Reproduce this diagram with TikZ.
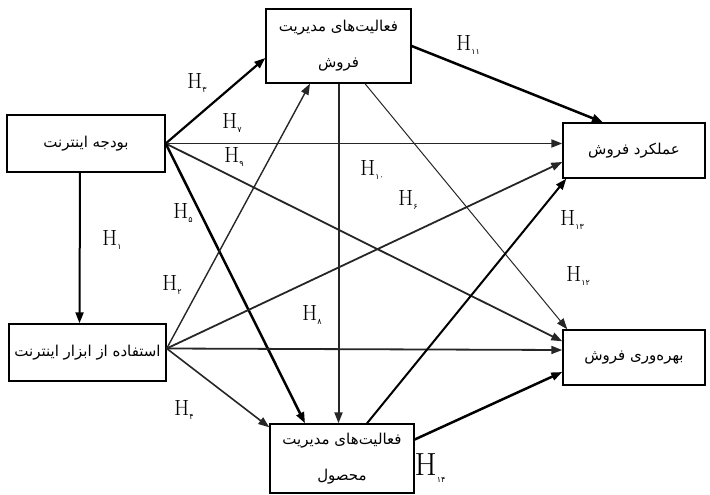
\documentclass[tikz,border=0pt]{standalone}
\usepackage{fontspec}
\usetikzlibrary{arrows.meta}
\newfontfamily\farsi[Script=Arabic]{DejaVu Sans}
\TeXXeTstate=1
\newcommand{\fa}[1]{{\farsi\beginR #1\endR}}
\newcommand{\hlab}[1]{H\raisebox{-.5ex}{\fontsize{8}{8}\selectfont\farsi #1}}

\tikzset{
  box/.style={draw,line width=1.4pt,inner sep=0pt,align=center,font=\fontsize{15}{18}\selectfont},
  link/.style={-{Triangle[length=11pt,width=8pt]},line width=1.6pt,black!85},
  hyp/.style={font=\fontsize{22}{22}\selectfont}
}

\begin{document}
\begin{tikzpicture}[x=1pt,y=-1pt]
        \useasboundingbox (0,0) rectangle (710,495);
        % boxes
        \node[box,minimum width=158pt,minimum height=57pt] (bud) at (86,143.5) {\fa{بودجه اینترنت}};
        \node[box,minimum width=157pt,minimum height=57pt] (abzar) at (87.5,352.5) {\fa{استفاده از ابزار اینترنت}};
        \node[box,minimum width=145pt,minimum height=74pt] (fmf) at (338.5,46) {\fa{فعالیت‌های مدیریت}\\[18pt]\fa{فروش}};
        \node[box,minimum width=142pt,minimum height=55pt] (amal) at (634,150.5) {\fa{عملکرد فروش}};
        \node[box,minimum width=142pt,minimum height=55pt] (bahre) at (634,357.5) {\fa{بهره‌وری فروش}};
        \node[box,minimum width=144pt,minimum height=69pt] (fmm) at (342,458.5) {\fa{فعالیت‌های مدیریت}\\[18pt]\fa{محصول}};
        \coordinate (bo) at ([yshift=4pt]abzar.east);
        % links
        \draw[link,line width=2pt,black] ([xshift=-6pt]bud.south) -- ([xshift=-8pt]abzar.north);
        \draw[link,line width=2.2pt,black] (bud.east) -- ([yshift=-12pt]fmf.west);
        \draw[link,line width=1.8pt] (bud.east) -- (bud.east -| amal.west);
        \draw[link,line width=1.8pt] (bud.east) -- ([yshift=-12pt]bahre.north west);
        \draw[link,line width=2.5pt,black] (bud.east) -- ([xshift=-37pt]fmm.north);
        \draw[link,line width=1.4pt] (bo) -- ([xshift=-28.5pt]fmf.south);
        \draw[link,line width=1.8pt] (bo) -- ([yshift=-11.5pt]amal.west);
        \draw[link,line width=1.8pt] (bo) -- ([yshift=7.5pt]bahre.west);
        \draw[link,line width=1.6pt] (bo) -- ([yshift=-4pt]fmm.north west);
        \draw[link,line width=2.5pt,black] (fmf.east) -- ([xshift=-31pt]amal.north);
        \draw[link,line width=2pt] (fmf.south) -- (fmf.south |- fmm.north);
        \draw[link,line width=1pt] ([xshift=26.5pt]fmf.south) -- ([xshift=5pt]bahre.north west);
        \draw[link,line width=2pt,black] ([xshift=25pt]fmm.north) -- ([xshift=4pt]amal.south west);
        \draw[link,line width=2.5pt,black] ([yshift=19pt]fmm.east) -- ([yshift=-14.5pt]bahre.west);
        % hypotheses
        \node[hyp] (h1) at (112,240) {\hlab{۱}};
        \node[hyp] (h2) at (172,285) {\hlab{۲}};
        \node[hyp] (h3) at (197,83) {\hlab{۳}};
        \node[hyp] (h4) at (184,410) {\hlab{۴}};
        \node[hyp] (h5) at (183,213) {\hlab{۵}};
        \node[hyp] (h6) at (408,200) {\hlab{۶}};
        \node[hyp] (h7) at (232,123) {\hlab{۷}};
        \node[hyp] (h8) at (312,315) {\hlab{۸}};
        \node[hyp] (h9) at (234,157) {\hlab{۹}};
        \node[hyp] (h10) at (372,170) {\hlab{۱۰}};
        \node[hyp] (h11) at (468,45) {\hlab{۱۱}};
        \node[hyp] (h12) at (578,276) {\hlab{۱۲}};
        \node[hyp] (h13) at (572,220) {\hlab{۱۳}};
        \node[hyp,font=\fontsize{32}{32}\selectfont] (h14) at (430,468) {\hlab{۱۴}};
\end{tikzpicture}
\end{document}
